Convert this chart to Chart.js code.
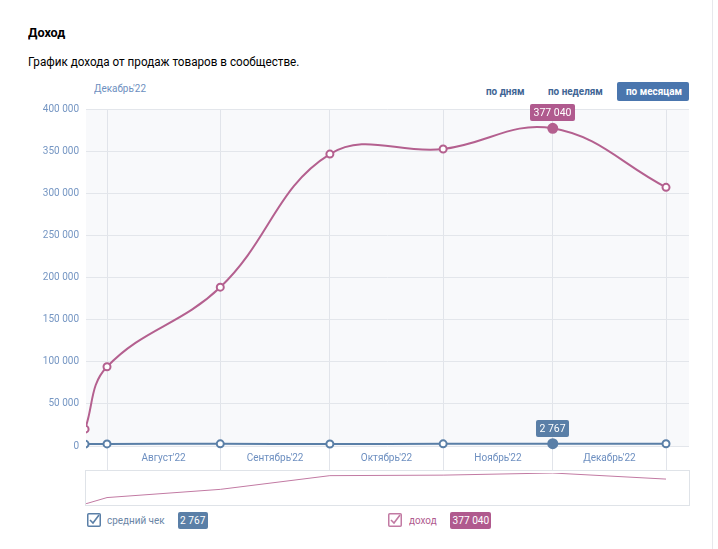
<!DOCTYPE html>
<html><head><meta charset="utf-8">
<script src="https://cdn.jsdelivr.net/npm/chart.js@4/dist/chart.umd.min.js"></script>
<style>
html,body{margin:0;padding:0;background:#fff;width:718px;height:549px;overflow:hidden;font-family:Roboto,'Noto Sans',sans-serif;}
#page{position:relative;width:718px;height:549px;}
.rline{position:absolute;left:712px;top:0;width:1px;height:549px;background:#e7e8ec;}
.sx{transform:scaleX(0.9);transform-origin:0 50%;}
.title{position:absolute;left:28px;top:24px;margin:0;font-size:13px;font-weight:700;color:#000;line-height:18px;transform:scaleX(0.97);transform-origin:0 50%;}
.sub{position:absolute;left:28px;top:53px;font-size:12.5px;color:#000;line-height:18px;white-space:nowrap;transform:scaleX(0.935);transform-origin:0 50%;}
.period{position:absolute;left:94px;top:82px;font-size:11px;color:#6d8fc0;line-height:14px;white-space:nowrap;}
.btn{position:absolute;top:82px;height:19px;line-height:19px;font-size:11px;font-weight:700;color:#3f6595;white-space:nowrap;}
.btnbox{position:absolute;left:617px;top:82px;width:72px;height:19px;background:#4a76ae;border-radius:2px;}
#mainWrap{position:absolute;left:0;top:95px;width:700px;height:375px;}
#navWrap{position:absolute;left:85px;top:470px;width:603px;height:34px;border:1px solid #dfe3e8;}
.lg{position:absolute;top:512px;height:17px;line-height:17px;font-size:11px;white-space:nowrap;}
.badge{position:absolute;top:512px;height:17px;line-height:17px;font-size:11px;color:#fff;text-align:center;border-radius:2px;}
.badge span{display:inline-block;transform:scaleX(0.92);}
.cb{position:absolute;top:513px;}
</style></head>
<body><div id="page">
<div class="rline"></div>
<div class="title">Доход</div>
<div class="sub">График дохода от продаж товаров в сообществе.</div>
<div class="period sx" id="period"></div>
<div class="btn sx" style="left:486px;">по дням</div>
<div class="btn sx" style="left:548px;">по неделям</div>
<div class="btnbox"></div>
<div class="btn sx" style="left:626px;color:#fff;">по месяцам</div>
<div id="mainWrap"><canvas id="main"></canvas></div>
<div id="navWrap"><canvas id="nav"></canvas></div>
<svg class="cb" style="left:87px" width="14" height="14"><rect x="0.75" y="0.75" width="12.5" height="12.5" fill="#fff" stroke="#5a7fa7" stroke-width="1.5" rx="1"/><path d="M3 7 L6 10 L12 2" fill="none" stroke="#5a7fa7" stroke-width="1.6"/></svg>
<div class="lg sx" style="left:107px;color:#6a86a6" id="lg0"></div>
<div class="badge" style="left:178px;width:30px;background:#5a7fa7"><span id="b0"></span></div>
<svg class="cb" style="left:388px" width="14" height="14"><rect x="0.75" y="0.75" width="12.5" height="12.5" fill="#fff" stroke="#c27aa3" stroke-width="1.5" rx="1"/><path d="M3 7 L6 10 L12 2" fill="none" stroke="#c27aa3" stroke-width="1.6"/></svg>
<div class="lg sx" style="left:409px;color:#b05a8e" id="lg1"></div>
<div class="badge" style="left:450px;width:41px;background:#b05a8e"><span id="b1"></span></div>
</div>
<script>
// ---- data ----
const pointDates = ['2022-07-26','2022-08-01','2022-09-01','2022-10-01','2022-11-01','2022-12-01','2023-01-01'];
const avgCheck   = [2300, 2500, 2600, 2400, 2550, 2767, 2700];
const income     = [20000, 94000, 188500, 346500, 352500, 377040, 307000];
const seriesNames = ['средний чек', 'доход'];
const monthStarts = ['2022-08-01','2022-09-01','2022-10-01','2022-11-01','2022-12-01','2023-01-01'];
const monthLabels = ["Август'22","Сентябрь'22","Октябрь'22","Ноябрь'22","Декабрь'22"];
const activeIndex = 5;
const activeLabel = "Декабрь'22";
const axisStart = '2022-07-26T06:00';
const axisEnd = '2023-01-07T07:00';

const BLUE = '#5a7fa7', PINK = '#b4608f', PINK_BADGE = '#b05a8e';
const DAY = 86400000;
const base = Date.parse('2022-08-01T00:00');
const toDay = s => (Date.parse(s.length === 10 ? s + 'T00:00' : s) - base) / DAY;
const fmt = v => String(Math.round(v)).replace(/\B(?=(\d{3})+(?!\d))/g, ' ');

const xs = pointDates.map(toDay);
const boundaries = monthStarts.map(toDay);
const mids = monthLabels.map((l, i) => (boundaries[i] + boundaries[i + 1]) / 2);
const xMin = toDay(axisStart), xMax = toDay(axisEnd);

document.getElementById('period').textContent = activeLabel;
document.getElementById('lg0').textContent = seriesNames[0];
document.getElementById('lg1').textContent = seriesNames[1];
document.getElementById('b0').textContent = fmt(avgCheck[activeIndex]);
document.getElementById('b1').textContent = fmt(income[activeIndex]);

const bgPlugin = {
  id: 'bg',
  beforeDraw(chart) {
    const a = chart.chartArea, c = chart.ctx;
    c.save(); c.fillStyle = '#f8f9fb'; c.fillRect(a.left, a.top, a.right - a.left, a.bottom - a.top); c.restore();
  }
};
const badgePlugin = {
  id: 'badges',
  afterDatasetsDraw(chart) {
    const c = chart.ctx;
    chart.data.datasets.forEach((ds, di) => {
      const el = chart.getDatasetMeta(di).data[activeIndex];
      if (!el) return;
      const txt = fmt(ds.data[activeIndex].y);
      c.save();
      c.font = '10.5px Roboto, sans-serif';
      const w = Math.round(c.measureText(txt).width) + 7, h = 17;
      const x = Math.round(el.x - w / 2), y = Math.round(el.y - 7 - h);
      c.fillStyle = ds.badgeColor;
      c.beginPath(); c.roundRect(x, y, w, h, 2); c.fill();
      c.fillStyle = '#fff'; c.textAlign = 'center'; c.textBaseline = 'middle';
      c.fillText(txt, x + w / 2, y + h / 2 + 0.5);
      c.restore();
    });
  }
};

const mkData = arr => arr.map((v, i) => ({ x: xs[i], y: v }));
const isB = v => boundaries.some(b => Math.abs(b - v) < 1e-6);
const clipLeft = { left: 0, top: false, right: false, bottom: false };

new Chart(document.getElementById('main'), {
  type: 'line',
  data: {
    datasets: [
      { label: seriesNames[0], data: mkData(avgCheck), borderColor: BLUE, borderWidth: 2, tension: 0.4,
        badgeColor: BLUE, clip: clipLeft,
        pointBorderColor: BLUE, pointBorderWidth: 2,
        pointBackgroundColor: ctx => ctx.dataIndex === activeIndex ? BLUE : '#fff',
        pointRadius: ctx => ctx.dataIndex === activeIndex ? 4.5 : 3.5 },
      { label: seriesNames[1], data: mkData(income), borderColor: PINK, borderWidth: 2, tension: 0.4,
        badgeColor: PINK_BADGE, clip: clipLeft,
        pointBorderColor: PINK, pointBorderWidth: 2,
        pointBackgroundColor: ctx => ctx.dataIndex === activeIndex ? PINK : '#fff',
        pointRadius: ctx => ctx.dataIndex === activeIndex ? 4.5 : 3.5 }
    ]
  },
  options: {
    responsive: true, maintainAspectRatio: false, animation: false,
    layout: { padding: { top: 14, right: 11, left: 0, bottom: 0 } },
    plugins: { legend: { display: false }, tooltip: { enabled: false } },
    events: [],
    scales: {
      x: {
        type: 'linear', min: xMin, max: xMax,
        afterBuildTicks: s => { s.ticks = boundaries.concat(mids).sort((a, b) => a - b).map(v => ({ value: v })); },
        afterFit: s => { s.height = 24; },
        border: { display: false },
        grid: {
          color: ctx => (ctx.tick && isB(ctx.tick.value)) ? '#e1e4ea' : 'rgba(0,0,0,0)',
          tickColor: ctx => (ctx.tick && isB(ctx.tick.value)) ? '#e1e4ea' : 'rgba(0,0,0,0)',
          drawTicks: true, tickLength: 24
        },
        ticks: {
          autoSkip: false, maxRotation: 0, padding: -18,
          color: '#6d8fc0', font: { family: 'Roboto', size: 10 },
          callback: v => { const i = mids.findIndex(m => Math.abs(m - v) < 1e-6); return i >= 0 ? monthLabels[i] : ''; }
        }
      },
      y: {
        min: 0, max: 400000,
        afterFit: s => { s.width = 86; },
        border: { display: false },
        grid: { color: '#e3e6eb', drawTicks: false },
        ticks: { stepSize: 50000, padding: 7, color: '#7596c3', font: { family: 'Roboto', size: 10 }, callback: v => fmt(v) }
      }
    }
  },
  plugins: [bgPlugin, badgePlugin]
});

new Chart(document.getElementById('nav'), {
  type: 'line',
  data: { datasets: [{ data: mkData(income), borderColor: '#c27aa3', borderWidth: 1, pointRadius: 0, tension: 0 }] },
  options: {
    responsive: true, maintainAspectRatio: false, animation: false, events: [],
    layout: { padding: { top: 2, bottom: 1, left: 0, right: 0 } },
    plugins: { legend: { display: false }, tooltip: { enabled: false } },
    scales: {
      x: { type: 'linear', display: false, min: xMin, max: xMax },
      y: { display: false, min: Math.min(...income), max: Math.max(...income) }
    }
  }
});
</script>
</body></html>
